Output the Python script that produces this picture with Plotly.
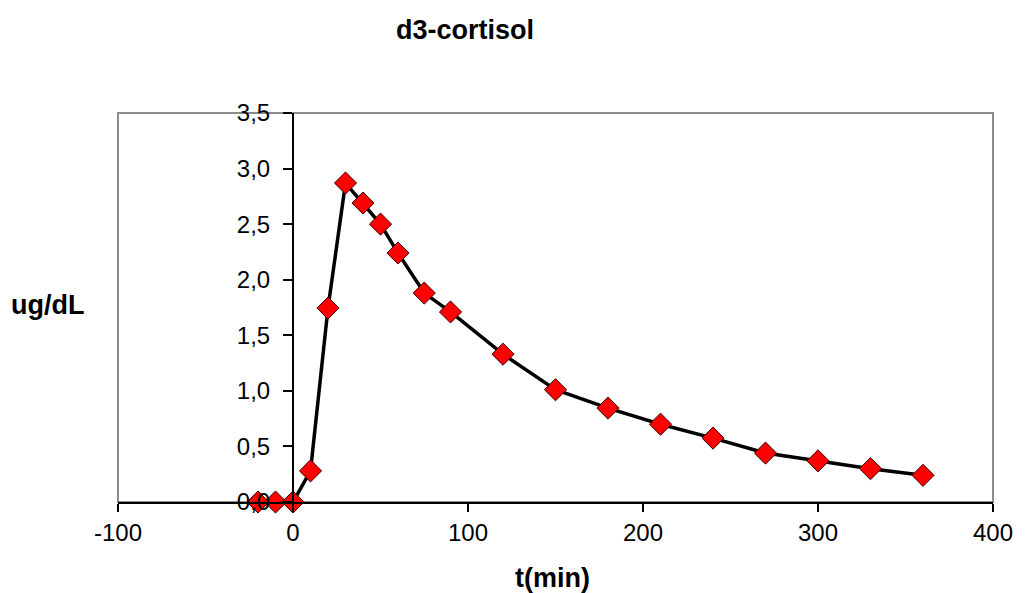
import plotly.graph_objects as go

# Sampling times (min) and measured d3-cortisol concentration (ug/dL)
t_min = [-20, -10, 0, 10, 20, 30, 40, 50, 60, 75, 90, 120, 150, 180, 210, 240, 270, 300, 330, 360]
conc = [0.0, 0.0, 0.0, 0.28, 1.745, 2.87, 2.69, 2.50, 2.24, 1.88, 1.71, 1.33, 1.01, 0.845,
        0.70, 0.575, 0.44, 0.37, 0.30, 0.24]

x_ticks = [-100, 0, 100, 200, 300, 400]
x_tick_text = ["-100", "0", "100", "200", "300", "400"]
y_ticks = [0.0, 0.5, 1.0, 1.5, 2.0, 2.5, 3.0, 3.5]

FONT = "Liberation Sans, Arial, sans-serif"

# plot-area edges in page pixels
LEFT, RIGHT, TOP, BOTTOM = 118, 1005, 113, 502
PW, PH = RIGHT - LEFT, BOTTOM - TOP


def px_to_paper(px, py):
    return (px - LEFT) / PW, (BOTTOM - py) / PH


fig = go.Figure()
fig.add_trace(go.Scatter(
    x=t_min, y=conc, mode="lines+markers",
    line=dict(color="black", width=3.5),
    marker=dict(symbol="diamond", size=17, color="#ff0000",
                line=dict(color="#3a0000", width=1)),
    cliponaxis=False, showlegend=False,
))

title_x, title_y = px_to_paper(470, 30)
ylab_x, ylab_y = px_to_paper(47, 305)
xlab_x, xlab_y = px_to_paper(558, 578)

fig.update_layout(
    width=1025, height=593,
    margin=dict(l=LEFT, r=1025 - RIGHT, t=TOP, b=593 - BOTTOM),
    paper_bgcolor="white", plot_bgcolor="white",
    separators=",.",
    font=dict(family=FONT, color="black"),
    xaxis=dict(
        range=[-100, 400], domain=[0, 1],
        tickvals=x_ticks, ticktext=x_tick_text,
        ticks="outside", ticklen=8, tickwidth=2, tickcolor="black",
        showline=True, linecolor="black", linewidth=2,
        showgrid=False, zeroline=False,
        tickfont=dict(size=24, family=FONT, color="black"),
        ticklabeloverflow="allow",
    ),
    yaxis=dict(
        range=[0, 3.5], anchor="free", position=0.2,
        tickvals=y_ticks, tickformat=".1f",
        ticks="outside", ticklen=9, tickwidth=2, tickcolor="black",
        showline=True, linecolor="black", linewidth=2,
        showgrid=False, zeroline=False,
        tickfont=dict(size=24, family=FONT, color="black"),
        ticklabelstandoff=8,
    ),
    shapes=[dict(
        type="rect", xref="x domain", yref="y domain",
        x0=0, x1=1, y0=0, y1=1,
        line=dict(color="#8c8c8c", width=2), layer="below",
    )],
    annotations=[
        dict(text="<b>d3-cortisol</b>", xref="paper", yref="paper",
             x=title_x, y=title_y,
             xanchor="center", yanchor="middle", showarrow=False,
             font=dict(size=27, family=FONT, color="black")),
        dict(text="<b>ug/dL</b>", xref="paper", yref="paper",
             x=ylab_x, y=ylab_y,
             xanchor="center", yanchor="middle", showarrow=False,
             font=dict(size=27, family=FONT, color="black")),
        dict(text="<b>t(min)</b>", xref="paper", yref="paper",
             x=xlab_x, y=xlab_y,
             xanchor="center", yanchor="middle", showarrow=False,
             font=dict(size=27, family=FONT, color="black")),
    ],
)

fig.write_html("out.html")
